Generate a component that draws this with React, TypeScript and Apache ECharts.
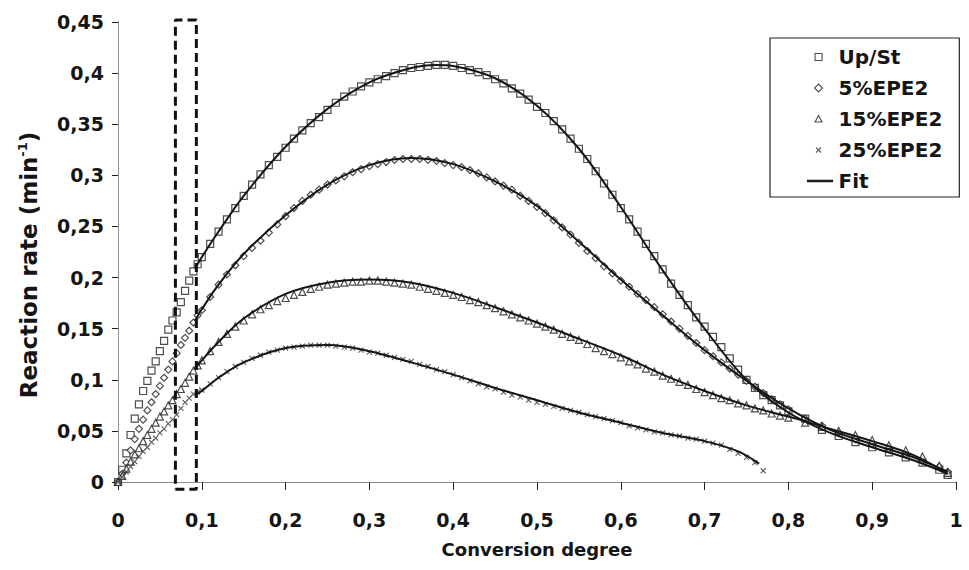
import React, { useEffect, useRef } from "react";
import * as echarts from "echarts";

// ---------- data ----------
const upStX = [0,0.005,0.01,0.015,0.02,0.025,0.03,0.035,0.04,0.045,0.05,0.055,0.06,0.065,0.07,0.075,0.08,0.085,0.09,0.095,0.1,
  0.11,0.12,0.13,0.14,0.15,0.16,0.17,0.18,0.19,0.2,0.21,0.22,0.23,0.24,0.25,0.26,0.27,0.28,0.29,0.3,
  0.31,0.32,0.33,0.34,0.35,0.36,0.37,0.38,0.39,0.4,0.41,0.42,0.43,0.44,0.45,0.46,0.47,0.48,0.49,0.5,
  0.51,0.52,0.53,0.54,0.55,0.56,0.57,0.58,0.59,0.6,0.61,0.62,0.63,0.64,0.65,0.66,0.67,0.68,0.69,0.7,
  0.71,0.72,0.73,0.74,0.75,0.76,0.77,0.78,0.79,0.8,0.82,0.84,0.86,0.88,0.9,0.92,0.94,0.96,0.98,0.99];
const upStY = [0,0.012,0.028,0.046,0.062,0.076,0.089,0.099,0.109,0.118,0.128,0.138,0.149,0.158,0.166,0.176,0.187,0.197,0.206,0.213,0.22,
  0.233,0.245,0.257,0.268,0.28,0.291,0.301,0.31,0.318,0.327,0.336,0.344,0.351,0.357,0.364,0.371,0.377,0.382,0.387,0.391,
  0.394,0.397,0.4,0.403,0.405,0.406,0.407,0.408,0.408,0.407,0.405,0.403,0.401,0.398,0.394,0.39,0.385,0.38,0.374,0.367,
  0.361,0.353,0.345,0.336,0.326,0.316,0.304,0.292,0.281,0.268,0.257,0.245,0.233,0.221,0.208,0.194,0.183,0.173,0.161,0.152,
  0.142,0.132,0.121,0.11,0.1,0.092,0.085,0.08,0.075,0.069,0.062,0.051,0.045,0.039,0.034,0.029,0.024,0.019,0.012,0.007];

const epe5X = upStX;
const epe5Y = [0,0.008,0.019,0.031,0.042,0.052,0.061,0.07,0.078,0.086,0.094,0.102,0.11,0.118,0.126,0.134,0.141,0.148,0.156,0.163,0.168,
  0.181,0.193,0.203,0.212,0.221,0.229,0.236,0.244,0.252,0.26,0.268,0.275,0.281,0.286,0.291,0.295,0.299,0.303,0.306,0.309,
  0.311,0.313,0.315,0.316,0.316,0.316,0.315,0.314,0.312,0.31,0.308,0.305,0.302,0.298,0.294,0.29,0.286,0.28,0.275,0.269,
  0.263,0.256,0.249,0.242,0.234,0.226,0.219,0.211,0.204,0.197,0.191,0.184,0.178,0.171,0.164,0.157,0.15,0.143,0.136,0.129,
  0.123,0.117,0.111,0.105,0.099,0.093,0.087,0.081,0.076,0.071,0.062,0.055,0.048,0.042,0.037,0.032,0.027,0.021,0.015,0.01];

const epe15X = upStX;
const epe15Y = [0,0.006,0.013,0.02,0.027,0.033,0.04,0.046,0.052,0.058,0.064,0.069,0.075,0.08,0.086,0.091,0.097,0.103,0.109,0.114,0.119,
  0.128,0.137,0.145,0.152,0.158,0.164,0.169,0.173,0.177,0.18,0.183,0.186,0.189,0.191,0.193,0.194,0.195,0.196,0.196,0.197,
  0.197,0.196,0.195,0.194,0.193,0.191,0.189,0.187,0.185,0.183,0.181,0.178,0.176,0.173,0.17,0.167,0.164,0.161,0.158,0.155,
  0.152,0.149,0.145,0.142,0.139,0.135,0.131,0.128,0.125,0.122,0.118,0.115,0.111,0.108,0.104,0.101,0.098,0.095,0.091,0.088,
  0.085,0.082,0.08,0.077,0.075,0.072,0.07,0.067,0.065,0.063,0.058,0.054,0.05,0.046,0.041,0.036,0.031,0.025,0.016,0.009];

const epe25X = [0,0.005,0.01,0.015,0.02,0.025,0.03,0.035,0.04,0.045,0.05,0.055,0.06,0.065,0.07,0.075,0.08,0.085,0.09,0.095,0.1,
  0.11,0.12,0.13,0.14,0.15,0.16,0.17,0.18,0.19,0.2,0.21,0.22,0.23,0.24,0.25,0.26,0.27,0.28,0.29,0.3,
  0.31,0.32,0.33,0.34,0.35,0.36,0.37,0.38,0.39,0.4,0.41,0.42,0.43,0.44,0.45,0.46,0.47,0.48,0.49,0.5,
  0.51,0.52,0.53,0.54,0.55,0.56,0.57,0.58,0.59,0.6,0.61,0.62,0.63,0.64,0.65,0.66,0.67,0.68,0.69,0.7,
  0.71,0.72,0.73,0.74,0.75,0.76,0.77];
const epe25Y = [0,0.005,0.01,0.015,0.02,0.025,0.03,0.034,0.039,0.043,0.048,0.052,0.057,0.061,0.066,0.072,0.078,0.082,0.086,0.088,0.09,
  0.096,0.102,0.108,0.113,0.117,0.121,0.124,0.127,0.129,0.131,0.132,0.133,0.134,0.134,0.134,0.133,0.132,0.131,0.129,0.127,
  0.126,0.124,0.122,0.12,0.118,0.115,0.113,0.11,0.108,0.105,0.102,0.099,0.096,0.093,0.091,0.088,0.085,0.083,0.08,0.078,
  0.076,0.074,0.072,0.07,0.068,0.066,0.064,0.062,0.06,0.058,0.055,0.053,0.051,0.049,0.048,0.046,0.045,0.043,0.042,0.04,
  0.038,0.036,0.032,0.028,0.024,0.019,0.011];

// fit curves
const fitUpStX = [0.092,0.1,0.12,0.15,0.2,0.25,0.3,0.35,0.38,0.4,0.45,0.5,0.55,0.6,0.65,0.7,0.75,0.8,0.85,0.9,0.95,0.99];
const fitUpStY = [0.209,0.22,0.245,0.28,0.328,0.365,0.391,0.405,0.408,0.407,0.395,0.368,0.326,0.269,0.207,0.15,0.1,0.068,0.048,0.034,0.021,0.008];
const fit5X = [0.092,0.1,0.12,0.15,0.2,0.25,0.3,0.35,0.4,0.45,0.5,0.55,0.6,0.65,0.7,0.75,0.8,0.85,0.9,0.95,0.99];
const fit5Y = [0.158,0.169,0.193,0.223,0.261,0.291,0.31,0.317,0.311,0.294,0.27,0.235,0.198,0.163,0.129,0.099,0.072,0.051,0.037,0.024,0.01];
const fit15X = [0.092,0.1,0.12,0.15,0.2,0.25,0.3,0.35,0.4,0.45,0.5,0.55,0.6,0.65,0.7,0.75,0.8,0.85,0.9,0.95,0.99];
const fit15Y = [0.111,0.119,0.137,0.16,0.184,0.195,0.198,0.195,0.185,0.171,0.156,0.14,0.124,0.105,0.089,0.075,0.064,0.052,0.04,0.026,0.008];
const fit25X = [0.092,0.1,0.12,0.15,0.2,0.25,0.3,0.35,0.4,0.45,0.5,0.55,0.6,0.65,0.7,0.74,0.765];
const fit25Y = [0.085,0.089,0.102,0.117,0.131,0.134,0.128,0.117,0.105,0.092,0.08,0.068,0.058,0.048,0.04,0.03,0.018];

// dashed highlight box (data space)
const boxX = [0.0685,0.0935,0.0935,0.0685,0.0685];
const boxY = [-0.007,-0.007,0.452,0.452,-0.007];

const legendNames = ["Up/St", "5%EPE2", "15%EPE2", "25%EPE2", "Fit"];
const xTicks = { min: 0, max: 1, interval: 0.1 };
const yTicks = { min: 0, max: 0.45, interval: 0.05 };

const zip = (xs: number[], ys: number[]) => xs.map((x, i) => [x, ys[i]]);

const FONT = "'DejaVu Sans', Verdana, sans-serif";
const INK = "#151515";

// legend icons: 26x14 box, glyph placed at left part
const BOX = "M0,0M26,14";
const legendIcons: Record<string, string> = {
  "Up/St": `path://${BOX}M7.5,3.5L14.5,3.5L14.5,10.5L7.5,10.5Z`,
  "5%EPE2": `path://${BOX}M11,3L15,7L11,11L7,7Z`,
  "15%EPE2": `path://${BOX}M11,3.5L14.5,10L7.5,10Z`,
  "25%EPE2": `path://${BOX}M8.5,4.5L13.5,9.5M13.5,4.5L8.5,9.5`,
  Fit: `path://${BOX}M0,6.2L25,6.2L25,7.8L0,7.8Z`,
};

export default function App() {
  const ref = useRef<HTMLDivElement>(null);
  useEffect(() => {
    if (!ref.current) return;
    const chart = echarts.init(ref.current, undefined, { renderer: "svg" });
    const hollow = { color: "#ffffff", borderColor: "#222", borderWidth: 1.2 };
    const markerSeries = (name: string, symbol: string, size: number, xs: number[], ys: number[], style: any) => ({
      name,
      type: "scatter",
      symbol,
      symbolSize: size,
      data: zip(xs, ys),
      itemStyle: style,
      silent: true,
      z: 2,
    });
    const fitSeries = (xs: number[], ys: number[]) => ({
      name: "Fit",
      type: "line",
      smooth: 0.35,
      symbol: "none",
      showSymbol: false,
      data: zip(xs, ys),
      lineStyle: { color: INK, width: 2 },
      itemStyle: { color: INK, borderColor: INK },
      silent: true,
      z: 3,
    });
    chart.setOption({
      animation: false,
      backgroundColor: "#ffffff",
      grid: { left: 118, right: 13, top: 22, bottom: 88 },
      legend: {
        data: legendNames.map((n) => ({ name: n, icon: legendIcons[n] })),
        orient: "vertical",
        left: 770,
        top: 38,
        padding: [8, 17, 5, 37],
        itemGap: 9,
        itemWidth: 26,
        itemHeight: 14,
        borderColor: "#222",
        borderWidth: 1.2,
        backgroundColor: "#fff",
        selectedMode: false,
        itemStyle: { borderWidth: 1.1 },
        textStyle: { fontFamily: FONT, fontSize: 20, fontWeight: "bold", color: INK, lineHeight: 22 },
      },
      xAxis: [
        {
          type: "value",
          ...xTicks,
          name: "Conversion degree",
          nameLocation: "middle",
          nameGap: 58,
          nameTextStyle: { fontFamily: FONT, fontSize: 18, fontWeight: "bold", color: INK },
          axisLine: { lineStyle: { color: "#222", width: 1 } },
          axisTick: { show: true, inside: false, length: 8, lineStyle: { color: "#222" } },
          axisLabel: {
            margin: 28,
            fontFamily: FONT,
            fontSize: 19,
            fontWeight: "bold",
            color: INK,
            formatter: (v: number) => String(Math.round(v * 10) / 10).replace(".", ","),
          },
          splitLine: { show: false },
        },
        {
          type: "value",
          ...xTicks,
          position: "top",
          axisLine: { show: true, lineStyle: { color: "#aaa", type: "dotted", width: 1 } },
          axisTick: { show: false },
          axisLabel: { show: false },
          splitLine: { show: false },
        },
      ],
      yAxis: [
        {
          type: "value",
          ...yTicks,
          name: "Reaction rate (min{sup|-1})",
          nameLocation: "middle",
          nameGap: 77,
          nameTextStyle: {
            fontFamily: FONT,
            fontSize: 23,
            fontWeight: "bold",
            color: INK,
            padding: [0, 26, 0, 0],
            rich: { sup: { fontFamily: FONT, fontSize: 13, fontWeight: "bold", color: INK, padding: [0, 0, 12, 0] } },
          },
          axisLine: { show: true, lineStyle: { color: "#222", width: 1 } },
          axisTick: { show: true, inside: false, length: 6, lineStyle: { color: "#222" } },
          axisLabel: {
            margin: 14,
            fontFamily: FONT,
            fontSize: 19,
            fontWeight: "bold",
            color: INK,
            formatter: (v: number) => String(Math.round(v * 100) / 100).replace(".", ","),
          },
          splitLine: { show: false },
        },
        {
          type: "value",
          ...yTicks,
          position: "right",
          axisLine: { show: true, lineStyle: { color: "#aaa", type: "dotted", width: 1 } },
          axisTick: { show: false },
          axisLabel: { show: false },
          splitLine: { show: false },
        },
      ],
      series: [
        markerSeries("Up/St", "rect", 7, upStX, upStY, hollow),
        markerSeries("5%EPE2", "diamond", 7, epe5X, epe5Y, hollow),
        markerSeries("15%EPE2", "triangle", 7, epe15X, epe15Y, hollow),
        markerSeries("25%EPE2", "path://M0,0L10,10M10,0L0,10", 5, epe25X, epe25Y, {
          color: "#ffffff",
          borderColor: "#333",
          borderWidth: 1.1,
        }),
        fitSeries(fitUpStX, fitUpStY),
        fitSeries(fit5X, fit5Y),
        fitSeries(fit15X, fit15Y),
        fitSeries(fit25X, fit25Y),
        {
          name: "box",
          type: "line",
          data: zip(boxX, boxY),
          symbol: "none",
          clip: false,
          silent: true,
          lineStyle: { color: "#111", width: 3, type: [9, 5] },
          z: 4,
        },
      ],
    });
    return () => chart.dispose();
  }, []);
  return <div ref={ref} style={{ width: 969, height: 570, position: "absolute", left: 0, top: 0 }} />;
}
